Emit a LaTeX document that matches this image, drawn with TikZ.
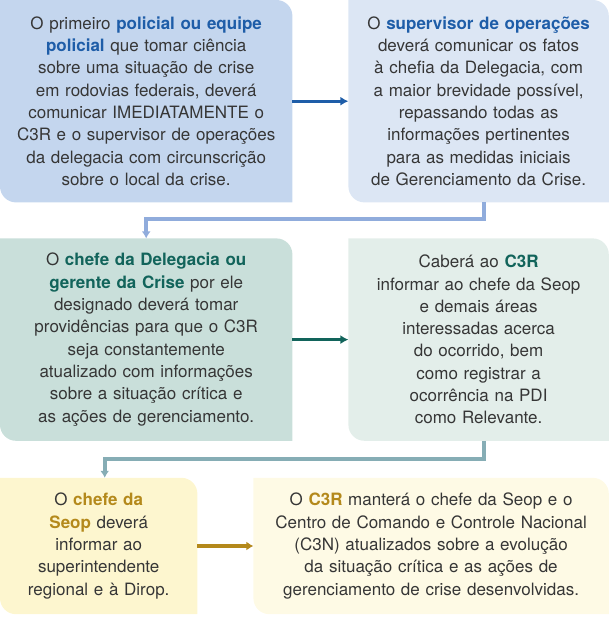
\documentclass[tikz,border=0pt]{standalone}
\usepackage{fontspec}
\setmainfont{TeX Gyre Heros}
\usetikzlibrary{positioning,arrows.meta,backgrounds}
\definecolor{txt}{HTML}{363636}
\definecolor{blueA}{HTML}{C4D6EE}
\definecolor{blueB}{HTML}{DCE6F4}
\definecolor{blueT}{HTML}{1E5DA8}
\definecolor{blueL}{HTML}{90ACDC}
\definecolor{tealA}{HTML}{C9DFDA}
\definecolor{tealB}{HTML}{E3EEEA}
\definecolor{tealT}{HTML}{12645B}
\definecolor{tealL}{HTML}{86ADB5}
\definecolor{goldA}{HTML}{FDF6CF}
\definecolor{goldB}{HTML}{FEFAE5}
\definecolor{goldT}{HTML}{B4891B}
\newcommand{\hlb}[1]{\textcolor{blueT}{\textbf{#1}}}
\newcommand{\hlt}[1]{\textcolor{tealT}{\textbf{#1}}}
\newcommand{\hlg}[1]{\textcolor{goldT}{\textbf{#1}}}
% box fill with two rounded corners (top right, bottom left)
\newcommand{\leaf}[2]{%
  \fill[#2] (#1.north west) -- (#1.north) [rounded corners=16pt] -- (#1.north east)
    -- (#1.east) [sharp corners] -- (#1.south east) -- (#1.south) [rounded corners=16pt]
    -- (#1.south west) -- (#1.west) [sharp corners] -- cycle;}
\tikzstyle{box} = [inner sep=0pt, align=center, text=txt, font=\fontsize{17}{22.3}\selectfont]
\tikzstyle{tall} = [minimum height=202pt]
\tikzstyle{low} = [minimum height=136pt]
\tikzstyle{to} = [-{Latex[length=8pt,width=9pt]}, line width=3pt]
\tikzstyle{link} = [-{Latex[length=7pt,width=9pt]}, line width=4pt]

\begin{document}
\begin{tikzpicture}[node distance=56pt]
	\useasboundingbox (0,0) rectangle (608pt,-623pt);
	%
	\node (b1) [box,tall,text width=292pt,anchor=north west] at (0,0)
		{O primeiro \hlb{policial ou equipe}\\
		 \hlb{policial} que tomar ciência\\
		 sobre uma situação de crise\\
		 em rodovias federais, deverá\\
		 comunicar IMEDIATAMENTE o\\
		 C3R e o supervisor de operações\\
		 da delegacia com circunscrição\\
		 sobre o local da crise.};
	\node (b2) [box,tall,text width=260pt,right=of b1]
		{O \hlb{supervisor de operações}\\
		 deverá comunicar os fatos\\
		 à chefia da Delegacia, com\\
		 a maior brevidade possível,\\
		 repassando todas as\\
		 informações pertinentes\\
		 para as medidas iniciais\\
		 de Gerenciamento da Crise.};
	%
	\node (b3) [box,tall,text width=292pt,below=36pt of b1]
		{O \hlt{chefe da Delegacia ou}\\
		 \hlt{gerente da Crise} por ele\\
		 designado deverá tomar\\
		 providências para que o C3R\\
		 seja constantemente\\
		 atualizado com informações\\
		 sobre a situação crítica e\\
		 as ações de gerenciamento.};
	\node (b4) [box,tall,text width=260pt,right=of b3]
		{Caberá ao \hlt{C3R}\\
		 informar ao chefe da Seop\\
		 e demais áreas\\
		 interessadas acerca\\
		 do ocorrido, bem\\
		 como registrar a\\
		 ocorrência na PDI\\
		 como Relevante.};
	%
	\node (b5) [box,low,text width=197pt,below=37pt of b3.south west,anchor=north west]
		{O \hlg{chefe da}\\
		 \hlg{Seop} deverá\\
		 informar ao\\
		 superintendente\\
		 regional e à Dirop.};
	\node (b6) [box,low,text width=355pt,right=of b5]
		{O \hlg{C3R} manterá o chefe da Seop e o\\
		 Centro de Comando e Controle Nacional\\
		 (C3N) atualizados sobre a evolução\\
		 da situação crítica e as ações de\\
		 gerenciamento de crise desenvolvidas.};
	%
	\begin{pgfonlayer}{background}
		\leaf{b1}{blueA}
		\leaf{b2}{blueB}
		\leaf{b3}{tealA}
		\leaf{b4}{tealB}
		\leaf{b5}{goldA}
		\leaf{b6}{goldB}
	\end{pgfonlayer}
	%
	\draw [to,blueT] (b1.east) -- (b2.west);
	\draw [link,blueL] ([xshift=5pt]b2.south) -- ++(0,-17pt) -| (b3.north);
	\draw [to,tealT] (b3.east) -- (b4.west);
	\draw [link,tealL] ([xshift=5pt]b4.south) -- ++(0,-18pt) -| ([xshift=6pt]b5.north);
	\draw [link,goldT] (b5.east) -- (b6.west);
\end{tikzpicture}
\end{document}
